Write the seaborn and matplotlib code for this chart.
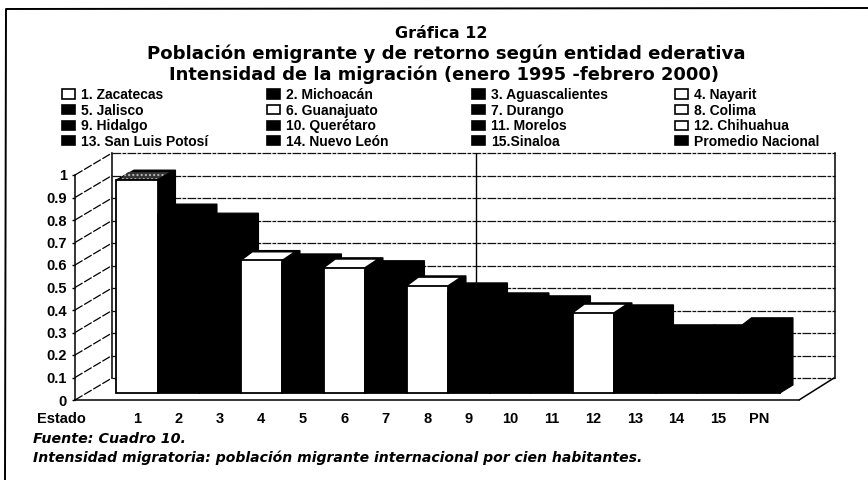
import pandas as pd
import seaborn as sns
import matplotlib.pyplot as plt
from matplotlib.lines import Line2D
from matplotlib.patches import Polygon

# ------------------------------------------------------------------------------
# data
# ------------------------------------------------------------------------------
estados = ["1", "2", "3", "4", "5", "6", "7", "8", "9", "10", "11", "12", "13", "14", "15", "PN"]
nombres = ["1. Zacatecas", "2. Michoacán", "3. Aguascalientes", "4. Nayarit",
           "5. Jalisco", "6. Guanajuato", "7. Durango", "8. Colima",
           "9. Hidalgo", "10. Querétaro", "11. Morelos", "12. Chihuahua",
           "13. San Luis Potosí", "14. Nuevo León", "15.Sinaloa", "Promedio Nacional"]
intensidad = [0.94, 0.79, 0.75, 0.585, 0.57, 0.553, 0.54, 0.473,
              0.442, 0.398, 0.385, 0.354, 0.345, 0.257, 0.257, 0.288]
colores = ["white", "black", "black", "white", "black", "white", "black", "white",
           "black", "black", "black", "white", "black", "black", "black", "black"]
escala = [0, 0.1, 0.2, 0.3, 0.4, 0.5, 0.6, 0.7, 0.8, 0.9, 1]
escala_txt = ["0", "0.1", "0.2", "0.3", "0.4", "0.5", "0.6", "0.7", "0.8", "0.9", "1"]

titulos = ["Gráfica 12",
           "Población emigrante y de retorno según entidad ederativa",
           "Intensidad de la migración (enero 1995 -febrero 2000)"]
fuente = "Fuente: Cuadro 10."
nota = "Intensidad migratoria: población migrante internacional por cien habitantes."

W, H = 868, 480
FONT = "Liberation Sans"
WIDE = "DejaVu Sans"  # the scan has wide letter spacing, this gets the line lengths right


def fx(x):
    return x / W


def fy(y):
    return 1 - y / H


def axes_px(fig, left, top, right, bottom):
    return fig.add_axes([fx(left), fy(bottom), (right - left) / W, (bottom - top) / H])


sns.set_style("white")
plt.rcParams["font.family"] = [FONT, "DejaVu Sans"]
plt.rcParams["font.weight"] = "bold"

fig = plt.figure(figsize=(W / 100, H / 100), dpi=100, facecolor="white")

# back wall, its gridlines run the whole way across
ax_wall = axes_px(fig, 112, 153, 835, 378)
ax_wall.set_xlim(0, 1)
ax_wall.set_ylim(0, 1)
ax_wall.set_yticks(escala)
ax_wall.set_xticks([])
ax_wall.set_yticklabels([])
ax_wall.tick_params(left=False)
ax_wall.grid(axis="y", color="#111111", linewidth=0.9, linestyle=(0, (7, 1, 3, 1)), clip_on=False)
ax_wall.axvline(0.503, color="black", linewidth=1)
for s in ["top", "bottom"]:
    ax_wall.spines[s].set_visible(False)
for s in ["left", "right"]:
    ax_wall.spines[s].set_color("black")
    ax_wall.spines[s].set_linewidth(1.1)

# value scale and floor front edge
ax_scale = axes_px(fig, 75, 175, 799, 400)
ax_scale.patch.set_alpha(0)
ax_scale.set_xlim(0, 1)
ax_scale.set_ylim(0, 1)
ax_scale.set_xticks([])
ax_scale.set_yticks(escala)
ax_scale.set_yticklabels(escala_txt, fontsize=10.5, fontweight="bold")
ax_scale.tick_params(axis="y", left=True, length=2.5, width=1, pad=3.5, color="black", labelcolor="black")
sns.despine(ax=ax_scale, top=True, right=True)
for s in ["left", "bottom"]:
    ax_scale.spines[s].set_color("black")
    ax_scale.spines[s].set_linewidth(1.1)

# side wall lines and floor right edge
for v in escala:
    fig.add_artist(Line2D([fx(75), fx(112)],
                          [fy(400 - 225 * v), fy(378 - 225 * v)],
                          color="black", linewidth=0.9, linestyle=(0, (7, 1.5))))
fig.add_artist(Line2D([fx(799), fx(834)], [fy(400), fy(378)], color="black", linewidth=1.1))

# bars, front plane
df = pd.DataFrame({"estado": estados, "nombre": nombres, "intensidad": intensidad})
paleta = dict(zip(nombres, colores))

ax = axes_px(fig, 116, 166.5, 780, 393)
ax.patch.set_alpha(0)
sns.barplot(data=df, x="estado", y="intensidad", hue="nombre", hue_order=nombres,
            palette=paleta, dodge=False, width=1, saturation=1,
            edgecolor="black", linewidth=1.3, ax=ax, zorder=5)
handles, labels = ax.get_legend_handles_labels()
ax.get_legend().remove()
ax.set_xlim(-0.5, 15.5)
ax.set_ylim(0, 1)
ax.set_xlabel("")
ax.set_ylabel("")
ax.set_yticks([])
ax.tick_params(axis="x", bottom=False, pad=10.5, labelsize=10.5, labelcolor="black")
sns.despine(ax=ax, left=True, bottom=True)

# fake 3d depth on every bar, left to right
dep_x, dep_y = 18 / 41.5, 10 / 226.5
top_x, top_y = 12 / 41.5, 8 / 226.5
bars = sorted([p for p in ax.patches if p.get_height() > 0], key=lambda p: p.get_x())
for i, (bar, color) in enumerate(zip(bars, colores)):
    x0 = bar.get_x()
    x1 = x0 + bar.get_width()
    h = bar.get_height()
    # last bar is shallower in the scan
    d = dep_x if i < len(bars) - 1 else 13 / 41.5
    dark = Polygon([(x0, h), (x0 + d, h + dep_y), (x1 + d, h + dep_y),
                    (x1 + d, dep_y * 0.8), (x1, 0), (x1, h)],
                   closed=True, facecolor="black", edgecolor="black", linewidth=0.8,
                   clip_on=False, zorder=2 + i * 0.01)
    ax.add_patch(dark)
    if color == "white" and i > 0:
        ax.add_patch(Polygon([(x0 + 0.03, h), (x0 + top_x, h + top_y), (x1 + top_x - 0.03, h + top_y), (x1 - 0.03, h)],
                             closed=True, facecolor="white", edgecolor="none",
                             clip_on=False, zorder=3))
    elif i == 0:
        # the first one has a speckled top
        ax.add_patch(Polygon([(x0 + 0.1, h + 0.004), (x0 + top_x, h + top_y), (x1 + top_x, h + top_y), (x1, h + 0.004)],
                             closed=True, facecolor="#333333", edgecolor="#bbbbbb", hatch="....",
                             linewidth=0, clip_on=False, zorder=3))
for bar in bars:
    bar.set_clip_on(False)

# legend, four columns placed by hand
col_px = [62, 267, 472, 675]
for c, left in enumerate(col_px):
    leg = fig.legend(handles[c::4], labels[c::4], loc="upper left",
                     bbox_to_anchor=(fx(left), fy(88)), frameon=False,
                     fontsize=10, handlelength=0.9, handleheight=0.65, handletextpad=0.45,
                     labelspacing=0.11, borderpad=0, borderaxespad=0, labelcolor="black")
    for h in leg.legend_handles:
        h.set_edgecolor("black")
        h.set_linewidth(1.2)

# texts
for y, t, size, cx in zip([33, 54, 75], titulos, [11.5, 13.05, 12.9], [441, 446, 444]):
    fig.text(fx(cx), fy(y), t, ha="center", va="center", fontsize=size, fontweight="bold",
             family=WIDE, color="black")
fig.text(fx(61), fy(419), "Estado", ha="center", va="center", fontsize=10.5, fontweight="bold", color="black")
fig.text(fx(33), fy(439), fuente, ha="left", va="center", fontsize=10.3, fontstyle="italic", fontweight="bold",
         family=WIDE, color="black")
fig.text(fx(33), fy(458), nota, ha="left", va="center", fontsize=10.05, fontstyle="italic", fontweight="bold",
         family=WIDE, color="black")

# outer frame, only top and left are there
fig.add_artist(Line2D([fx(5), fx(6), fx(W)], [fy(H), fy(9), fy(8)], color="black", linewidth=1.4))

fig.savefig("out.png", dpi=100)
